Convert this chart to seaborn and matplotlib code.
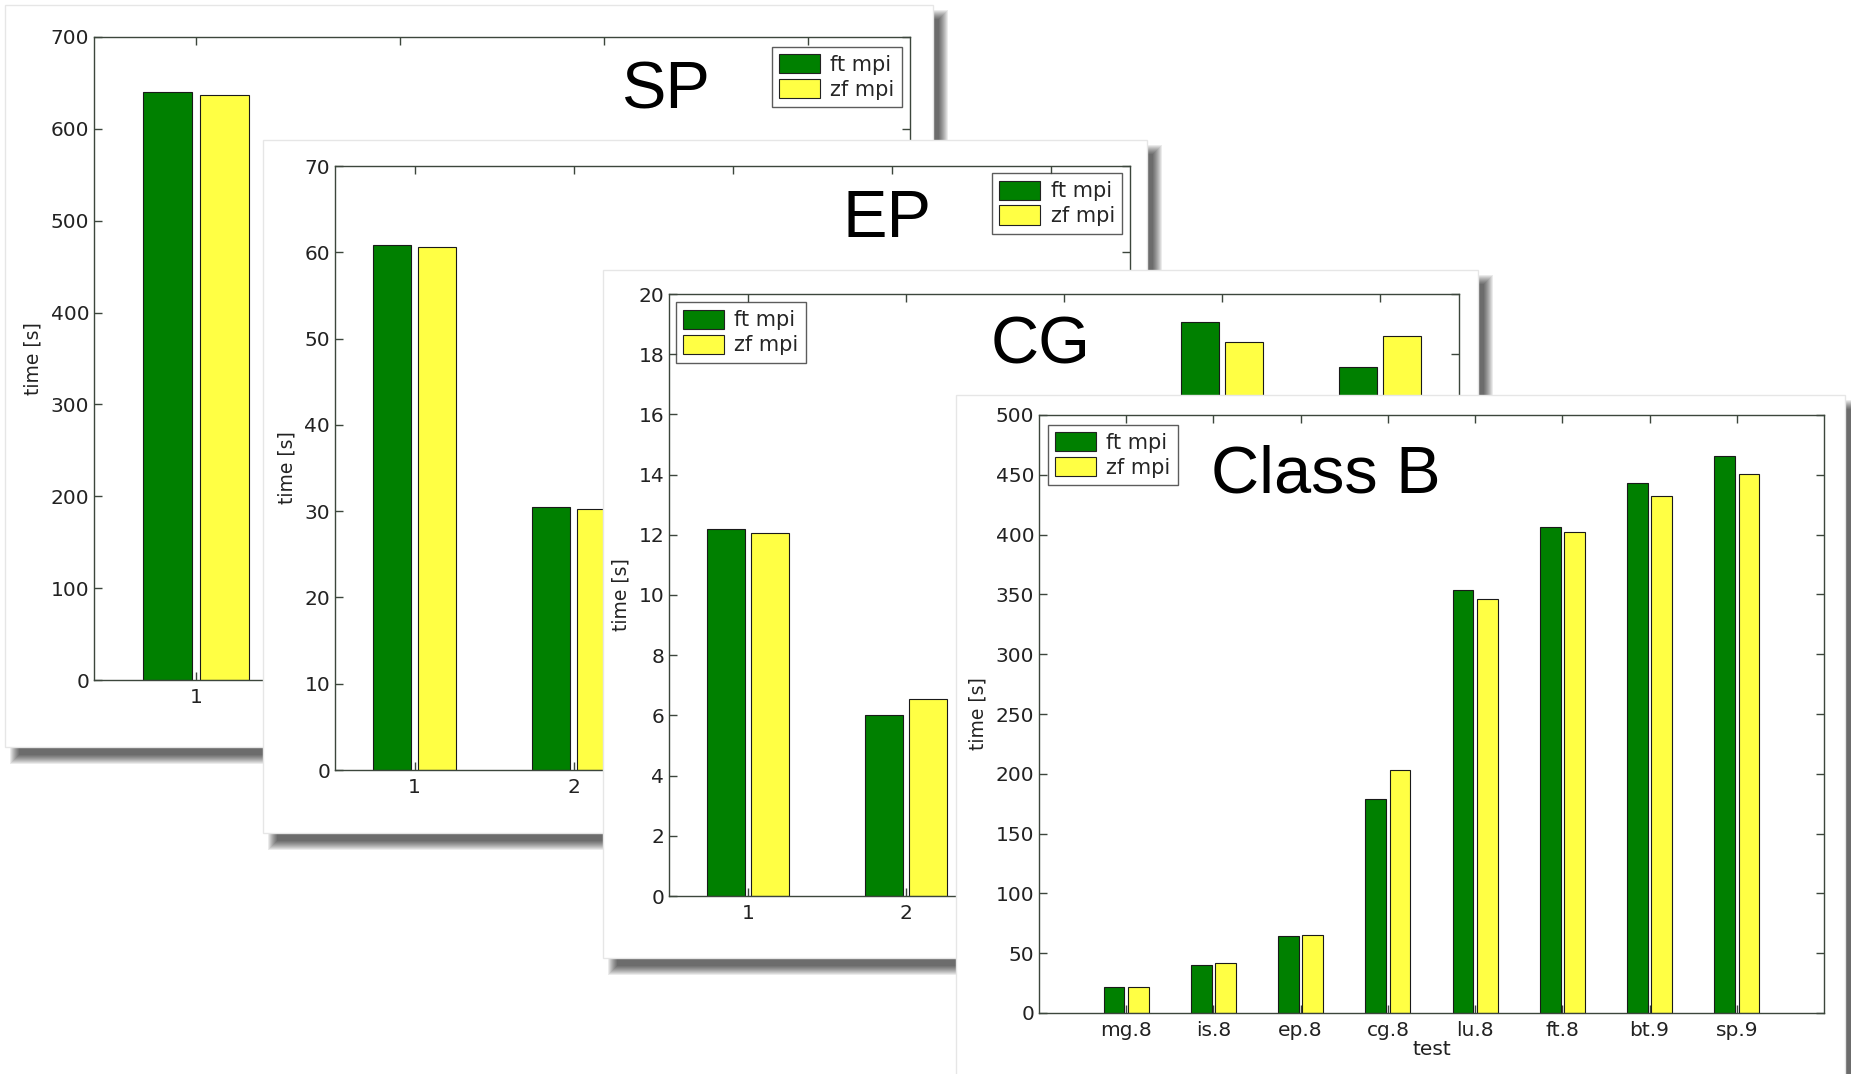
import pandas as pd
import matplotlib
matplotlib.use('Agg')
import matplotlib.pyplot as plt
from matplotlib.patches import Rectangle, Patch
import seaborn as sns

# ---- data (hidden bars are estimates) ----
series = ['ft mpi', 'zf mpi']

sp_groups = ['1', '2', '3', '4']
sp_ft = [640.3, 330, 228, 172]
sp_zf = [636.6, 327, 225, 170]

ep_groups = ['1', '2', '3', '4', '5']
ep_ft = [60.85, 30.45, 20.4, 15.3, 12.3]
ep_zf = [60.56, 30.2, 20.3, 15.2, 12.2]

cg_groups = ['1', '2', '3', '4', '5']
cg_ft = [12.19, 6.0, 15.0, 19.06, 17.59]
cg_zf = [12.07, 6.56, 15.4, 18.41, 18.59]

b_groups = ['mg.8', 'is.8', 'ep.8', 'cg.8', 'lu.8', 'ft.8', 'bt.9', 'sp.9']
b_ft = [22, 40.5, 64.5, 179, 354, 406, 443, 465.5]
b_zf = [22, 41.5, 65.5, 203, 346, 402, 432, 450.5]

GREEN = '#008000'
YELLOW = '#ffff44'
SPINE = '#3c463c'

sns.set_style('white')
plt.rcParams['font.family'] = ['DejaVu Sans']

W, H = 1851, 1074
fig = plt.figure(figsize=(W / 100, H / 100), dpi=100)
fig.patch.set_facecolor('white')


def frac(x0, y0, x1, y1):
    return [x0 / W, 1 - y1 / H, (x1 - x0) / W, (y1 - y0) / H]


def card(box, z):
    x0, y0, x1, y1 = box
    # soft drop shadow to the lower right
    for k in range(10):
        s = k * 1.0
        fig.add_artist(Rectangle(((x0 + 14 - s) / W, 1 - (y1 + 8 + s) / H),
                                 (x1 - x0 - 8 + 2 * s) / W, (y1 - y0 - 6 + 2 * s) / H,
                                 transform=fig.transFigure, facecolor='black',
                                 edgecolor='none', alpha=0.08, zorder=z))
    fig.add_artist(Rectangle((x0 / W, 1 - y1 / H), (x1 - x0) / W, (y1 - y0) / H,
                             transform=fig.transFigure, facecolor='white',
                             edgecolor='#e6e6e6', lw=1, zorder=z + 0.5))


def panel(card_box, ax_box, z, groups, ft, zf, ymax, ystep, title, title_xy,
          leg_loc, leg_anchor, xpad=0.5, xlabel=None):
    card(card_box, z)
    ax = fig.add_axes(frac(*ax_box))
    ax.set_zorder(z + 1)
    df = pd.DataFrame({
        'group': groups * 2,
        'series': [series[0]] * len(groups) + [series[1]] * len(groups),
        'time': list(ft) + list(zf),
    })
    sns.barplot(data=df, x='group', y='time', hue='series', order=groups,
                hue_order=series, palette=[GREEN, YELLOW], width=0.56, gap=0.15,
                edgecolor='#1a1a1a', linewidth=0.8, errorbar=None, legend=False,
                saturation=1, ax=ax)
    n = len(groups)
    ax.set_xlim(-xpad, n - 1 + xpad)
    ax.set_ylim(0, ymax)
    ax.set_yticks(range(0, ymax + 1, ystep))
    ax.set_facecolor('white')
    for sp in ax.spines.values():
        sp.set_visible(True)
        sp.set_color(SPINE)
        sp.set_linewidth(1.0)
    ax.tick_params(direction='in', top=True, right=True, bottom=True, left=True,
                   length=6, width=1, color=SPINE, labelsize=14.5, labelcolor='#222222')
    ax.tick_params(axis='x', pad=6)
    ax.set_ylabel('time [s]', fontsize=13.5, color='#222222', labelpad=6)
    ax.set_xlabel(xlabel if xlabel else '', fontsize=14.5, color='#222222', labelpad=0)
    handles = [Patch(facecolor=GREEN, edgecolor='#222222', lw=0.8),
               Patch(facecolor=YELLOW, edgecolor='#222222', lw=0.8)]
    leg = ax.legend(handles, series, loc=leg_loc, bbox_to_anchor=leg_anchor,
                    fontsize=15, frameon=True, fancybox=False, edgecolor='#333333',
                    handlelength=1.95, handleheight=1.05, handletextpad=0.5,
                    labelspacing=0.2, borderpad=0.35, borderaxespad=0)
    leg.get_frame().set_linewidth(1)
    ax.text(title_xy[0], title_xy[1], title, transform=ax.transAxes, ha='center',
            va='center', fontsize=48, family=['Liberation Sans', 'DejaVu Sans'],
            color='black')
    return ax


panel((5, 5, 933, 747), (94, 37, 910, 680), 2, sp_groups, sp_ft, sp_zf,
      700, 100, 'SP', (0.70, 0.915), 'upper right', (0.99, 0.985))
panel((263, 140, 1147, 833), (335, 166, 1130, 770), 6, ep_groups, ep_ft, ep_zf,
      70, 10, 'EP', (0.694, 0.91), 'upper right', (0.99, 0.988))
panel((603, 270, 1478, 958), (669, 294, 1459, 896), 10, cg_groups, cg_ft, cg_zf,
      20, 2, 'CG', (0.471, 0.912), 'upper left', (0.009, 0.986))
panel((956, 395, 1845, 1100), (1039, 415, 1824, 1013), 14, b_groups, b_ft, b_zf,
      500, 50, 'Class B', (0.365, 0.899), 'upper left', (0.011, 0.984),
      xpad=1.0, xlabel='test')

fig.savefig('out.png', dpi=100, facecolor='white')
